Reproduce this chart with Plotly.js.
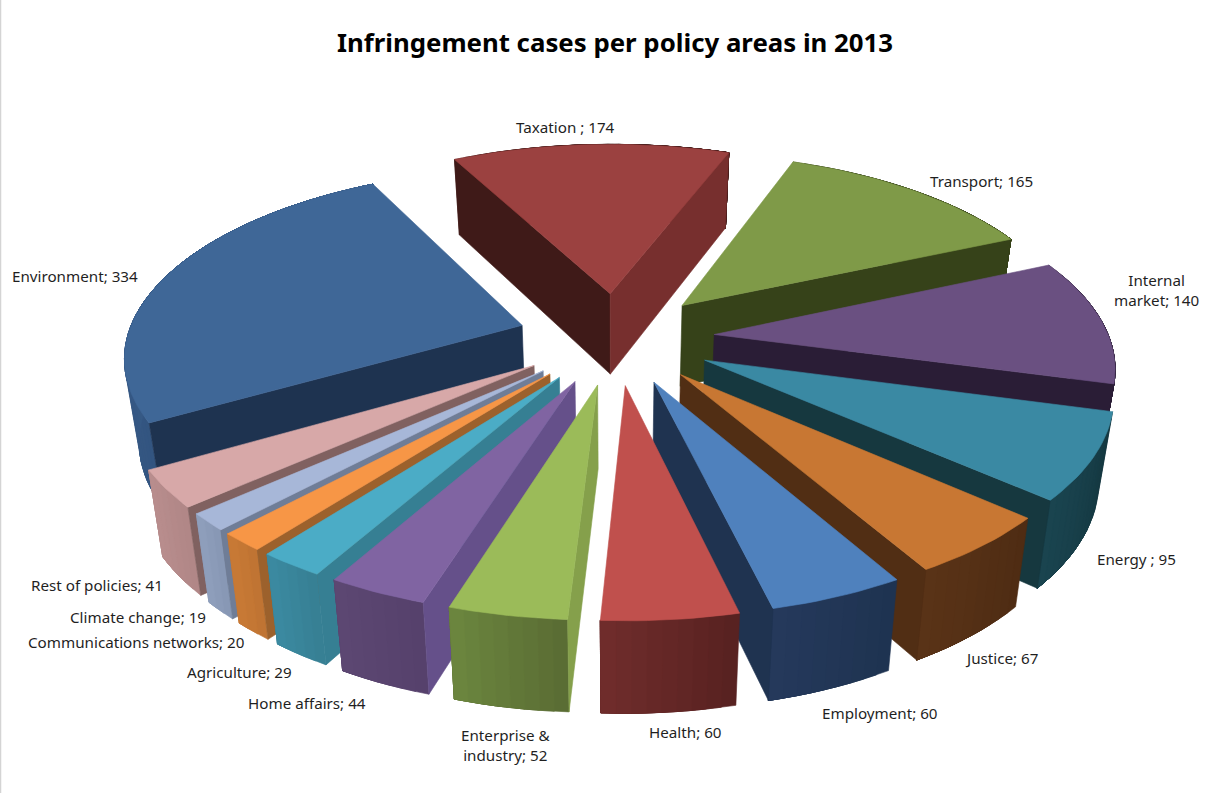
<!DOCTYPE html>
<html>
<head>
<meta charset="utf-8">
<script src="https://cdn.plot.ly/plotly-3.0.1.min.js"></script>
<style>html,body{margin:0;padding:0;background:#fff}#chart{width:1207px;height:793px}</style>
</head>
<body>
<div id="chart"></div>
<script>
const categories = ["Taxation","Transport","Internal market","Energy","Justice","Employment","Health","Enterprise & industry","Home affairs","Agriculture","Communications networks","Climate change","Rest of policies","Environment"];
const values = [174,165,140,95,67,60,60,52,44,29,20,19,41,334];
const labelTexts = ["Taxation ; 174","Transport; 165","Internal<br>market; 140","Energy ; 95","Justice; 67","Employment; 60","Health; 60","Enterprise &<br>industry; 52","Home affairs; 44","Agriculture; 29","Communications networks; 20","Climate change; 19","Rest of policies; 41","Environment; 334"];
const labelX = [565,981,1156,1136,1001,880,685,505,307,239,136,138,97,75];
const labelY = [127,181,290,559,658,713,732,745,703,672,642,617,585,276];
const topColors = ["#9B4140","#7F9A48","#6A5081","#3A89A3","#C87733","#4F81BD","#C0504D","#9BBB59","#8064A2","#4BACC6","#F79646","#A7B7D8","#D7A8A8","#3F6797"];
const startWallColors = ["#3F1A18","#364219","#2A1D36","#16383F","#512E14","#1F3350","#652726","#85A04B","#65508A","#367F93","#9C612C","#6F7D97","#806160","#1E3350"];
const endWallColors = ["#772F2E","#364219","#2A1D36","#16383F","#512E14","#1F3350","#652726","#85A04B","#65508A","#367F93","#9C612C","#6F7D97","#806160","#1E3350"];
const outerLeftColors = ["#3F1A18","#364219","#2A1D36","#1A4450","#5A3317","#25395C","#702D2C","#6C873F","#5D4773","#3C8AA1","#C97A36","#8F9FBD","#B98E8E","#3D6390"];
const outerRightColors = ["#3F1A18","#364219","#2A1D36","#14373F","#4E2C13","#1E3350","#572120","#596B33","#55406B","#367F93","#BE7332","#8796B3","#B08686","#335580"];

// 3D pie geometry
const firstAngle = -27.6, explode = 0.25;
const cx = 616, cy = 338, A = 395, B = 184, k = 0.15, H = 82, lean = 0.03;
function proj(x, y, z) {
  const w = 1 + k * y, s = 1 - lean * z;
  return [cx + A * x / w * s, cy - B * y / w * s + H * z / w];
}
const rad = d => d * Math.PI / 180;
const hex = c => [1,3,5].map(i => parseInt(c.substr(i,2),16));
const mix = (a,b,t) => { const p = hex(a), q = hex(b); return "rgb(" + p.map((v,i)=>Math.round(v+(q[i]-v)*t)).join(",") + ")"; };
const area = pts => { let s = 0; pts.forEach((p,i)=>{ const q = pts[(i+1)%pts.length]; s += p[0]*q[1]-q[0]*p[1]; }); return s; };

const total = values.reduce((a,b)=>a+b,0);
let acc = firstAngle;
const slices = values.map((v,i) => {
  const a0 = acc, a1 = acc + v / total * 360; acc = a1;
  const mid = (a0+a1)/2;
  return {i, a0, a1, ox: explode*Math.sin(rad(mid)), oy: explode*Math.cos(rad(mid))};
});
const traces = [];
function poly(pts, color, i) {
  traces.push({type:"scatter", mode:"lines", fill:"toself", fillcolor:color,
    x: pts.map(p=>p[0]).concat(pts[0][0]), y: pts.map(p=>p[1]).concat(pts[0][1]),
    line:{color:color, width:0.6}, showlegend:false, name:categories[i],
    text:categories[i]+": "+values[i], hoverinfo:"text", hoveron:"fills"});
}
slices.slice().sort((p,q)=>q.oy-p.oy).forEach(s => {
  const pt = (ang, z) => proj(s.ox + Math.sin(rad(ang)), s.oy + Math.cos(rad(ang)), z);
  const apex = z => proj(s.ox, s.oy, z);
  // curved outer wall: nested strips, each overlapping the next, so no seams show
  const n = Math.max(2, Math.ceil((s.a1 - s.a0) / 2));
  for (let j = 0; j < n; j++) {
    const up = [], down = [];
    for (let q = j; q <= n; q++) {
      const a = s.a0 + (s.a1-s.a0)*q/n;
      up.push(pt(a,0)); down.unshift(pt(a,1));
    }
    poly(up.concat(down), mix(outerRightColors[s.i], outerLeftColors[s.i], (j+0.5)/n), s.i);
  }
  // radial walls that face the viewer
  const w0 = [apex(0),pt(s.a0,0),pt(s.a0,1),apex(1)];
  const w1 = [apex(0),pt(s.a1,0),pt(s.a1,1),apex(1)];
  if (area(w0) < 0) poly(w0, startWallColors[s.i], s.i);
  if (area(w1) > 0) poly(w1, endWallColors[s.i], s.i);
  // top face
  const top = [apex(0)];
  const m = Math.ceil((s.a1-s.a0)/1.5);
  for (let j = 0; j <= m; j++) top.push(pt(s.a0+(s.a1-s.a0)*j/m, 0));
  poly(top, topColors[s.i], s.i);
});

const annotations = labelTexts.map((t,i)=>({x:labelX[i], y:labelY[i], xref:"x", yref:"y", text:t, showarrow:false,
  xanchor:"center", yanchor:"middle", align:"center", font:{family:"Noto Sans, sans-serif", size:15.2, color:"#1f1f1f"}}));

Plotly.newPlot("chart", traces, {
  width:1207, height:793, margin:{l:0,r:0,t:0,b:0}, paper_bgcolor:"#fff", plot_bgcolor:"#fff",
  title:{text:"<b>Infringement cases per policy areas in 2013</b>", x:615/1207, y:1-43/793, xanchor:"center", yanchor:"middle",
    font:{family:"Noto Sans, sans-serif", size:25.8, color:"#000"}},
  xaxis:{range:[0,1207], visible:false, fixedrange:true},
  yaxis:{range:[793,0], visible:false, fixedrange:true},
  shapes:[{type:"line", xref:"x", yref:"y", x0:0.5, x1:0.5, y0:0, y1:793, line:{color:"#d4d4d4", width:1.5}}],
  annotations, showlegend:false, hovermode:"closest"
}, {displayModeBar:false, responsive:false});
</script>
</body>
</html>
